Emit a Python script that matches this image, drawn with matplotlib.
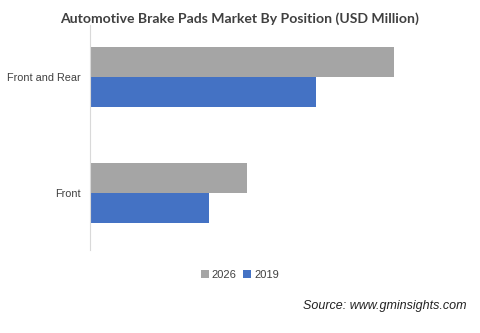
import numpy as np
import matplotlib
matplotlib.use('Agg')
from matplotlib import pyplot as plt

categories = ['Front', 'Front and Rear']
val_2026 = [1570, 3040]
val_2019 = [1190, 2260]

plt.rcParams['font.family'] = ['Liberation Sans', 'DejaVu Sans']

fig = plt.figure(figsize=(4.8, 3.33), dpi=100)
ax = fig.add_axes([0.1875, 0.249, 0.6825, 0.676])

y = np.arange(len(categories))
h = 0.26
ax.barh(y + h / 2, val_2026, height=h, color='#A5A5A5', label='2026')
ax.barh(y - h / 2, val_2019, height=h, color='#4472C4', label='2019')

ax.set_xlim(0, 3276)
ax.set_ylim(-0.49, 1.45)
ax.set_yticks(y)
ax.set_yticklabels(categories, fontsize=7.8, color='#404040')
ax.tick_params(axis='y', length=0, pad=7)
ax.set_xticks([])
for s in ['top', 'right', 'bottom']:
    ax.spines[s].set_visible(False)
ax.spines['left'].set_color('#D9D9D9')

fig.text(0.5, 0.943, 'Automotive Brake Pads Market By Position (USD Million)',
         ha='center', va='center', fontsize=10.1, fontweight='bold',
         color='#404040', family='Lato')

fig.legend(loc='center', bbox_to_anchor=(0.5, 0.174), ncol=2, frameon=False,
           fontsize=8, handlelength=0.7, handleheight=0.7, handletextpad=0.3,
           columnspacing=0.6, labelcolor='#404040')

fig.text(0.971, 0.081, 'Source: www.gminsights.com', ha='right', va='center',
         fontsize=9, style='italic', color='#222222')

fig.savefig('out.png', dpi=100)
